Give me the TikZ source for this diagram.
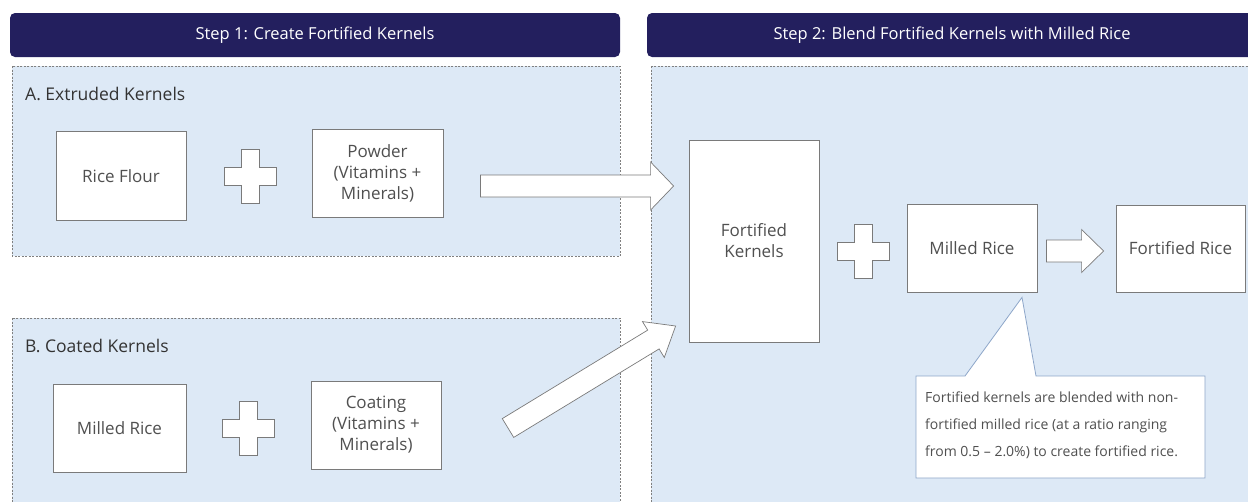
\documentclass[tikz,border=0pt]{standalone}
\usepackage{fontspec}
\setmainfont{Open Sans}
\usetikzlibrary{calc}

\definecolor{stepnavy}{HTML}{231F5E}
\definecolor{panelblue}{HTML}{DDE9F6}
\definecolor{boxgray}{HTML}{7A7A7A}
\definecolor{inkgray}{HTML}{505050}
\definecolor{noteblue}{HTML}{8DA6C9}

\tikzset{
  header/.style={fill=stepnavy, rounded corners=5pt, text=white,
    font=\fontsize{16.5}{18}\selectfont, minimum height=44pt, minimum width=610pt},
  panel/.style={draw=gray, line width=0.6pt, dash pattern=on 2pt off 1.5pt, fill=panelblue},
  item/.style={draw=boxgray, line width=0.8pt, fill=white, text=inkgray, align=center,
    font=\fontsize{17}{21}\selectfont},
  sublabel/.style={anchor=west, text=black!80, font=\fontsize{17.5}{20}\selectfont},
  blockshape/.style={draw=boxgray, line width=0.7pt, fill=white, line join=miter},
}

% cross drawn round a coordinate
\newcommand{\crossat}[1]{%
  \draw[blockshape] ($(#1)+(-9,-27)$) -- ++(18,0) -- ++(0,18) -- ++(17,0) -- ++(0,18)
    -- ++(-17,0) -- ++(0,18) -- ++(-18,0) -- ++(0,-18) -- ++(-17,0) -- ++(0,-18)
    -- ++(17,0) -- cycle;}

% block arrow: tail, tip, shaft half width, head half width, head length
\newcommand{\blockarrow}[5]{%
  \coordinate (#1-b) at ($(#2)!#5!(#1)$);
  \draw[blockshape] ($(#1)!#3!90:(#2)$) -- ($(#1-b)!#3!90:(#2)$) -- ($(#1-b)!#4!90:(#2)$)
    -- (#2) -- ($(#1-b)!#4!-90:(#2)$) -- ($(#1-b)!#3!-90:(#2)$) -- ($(#1)!#3!-90:(#2)$) -- cycle;}

\begin{document}
\begin{tikzpicture}[x=1pt, y=-1pt, inner sep=0pt]
  \useasboundingbox (0,0) rectangle (1248,501);

  % headers
  \node[header] (step1) at (315,35) {Step 1: Create Fortified Kernels};
  \node[header] (step2) at (952,35) {Step 2: Blend Fortified Kernels with Milled Rice};

  % panels
  \draw[panel] (12,66) rectangle (620,256);
  \draw[panel] (12,318) rectangle (620,520);
  \draw[panel] (651,66) rectangle (1260,520);
  \node[sublabel] (extruded) at (25,94) {A. Extruded Kernels};
  \node[sublabel] (coated) at (25,346) {B. Coated Kernels};

  % step 1
  \node[item, minimum width=130pt, minimum height=89pt] (flour) at (121,176) {Rice Flour};
  \coordinate (plusA) at (250,176);
  \node[item, minimum width=131pt, minimum height=88pt] (powder) at (377.5,173)
    {Powder\\(Vitamins +\\Minerals)};
  \node[item, minimum width=133pt, minimum height=88pt] (milledB) at (119.5,428) {Milled Rice};
  \coordinate (plusB) at (248,428);
  \node[item, minimum width=130pt, minimum height=88pt] (coating) at (376,425)
    {Coating\\(Vitamins +\\Minerals)};

  % step 2
  \node[item, minimum width=130pt, minimum height=202pt] (kernels) at (754,241)
    {Fortified\\Kernels};
  \coordinate (plusC) at (863,251);
  \node[item, minimum width=130pt, minimum height=88pt] (milledC) at (972,248) {Milled Rice};
  \node[item, minimum width=129pt, minimum height=87pt] (fortrice) at (1180.5,248.5)
    {Fortified Rice};

  \crossat{plusA}
  \crossat{plusB}
  \crossat{plusC}

  % arrows
  \coordinate (aTail) at ($(powder.east)+(37,13)$);
  \coordinate (aTip) at ($(kernels.west)+(-15,-55)$);
  \blockarrow{aTail}{aTip}{11pt}{24pt}{23pt}
  \coordinate (bTail) at (508,428);
  \coordinate (bTip) at ($(kernels.west)+(-13,85)$);
  \blockarrow{bTail}{bTip}{11pt}{21pt}{26pt}
  \coordinate (cTail) at ($(milledC.east)+(9,3)$);
  \coordinate (cTip) at ($(fortrice.west)+(-12,2.5)$);
  \blockarrow{cTail}{cTip}{11pt}{21.5pt}{22pt}

  % callout
  \coordinate (noteTip) at ($(milledC.south)+(50,5)$);
  \draw[draw=noteblue, line width=0.8pt, fill=white] (916,376) -- (965,376) -- (noteTip)
    -- (1036,376) -- (1205,376) -- (1205,478) -- (916,478) -- cycle;
  \node[anchor=north west, text=inkgray, align=left, font=\fontsize{14}{27}\selectfont]
    (note) at (925,392) {Fortified kernels are blended with non-\\fortified milled rice
    (at a ratio ranging\\from 0.5 – 2.0\%) to create fortified rice.};
\end{tikzpicture}
\end{document}
